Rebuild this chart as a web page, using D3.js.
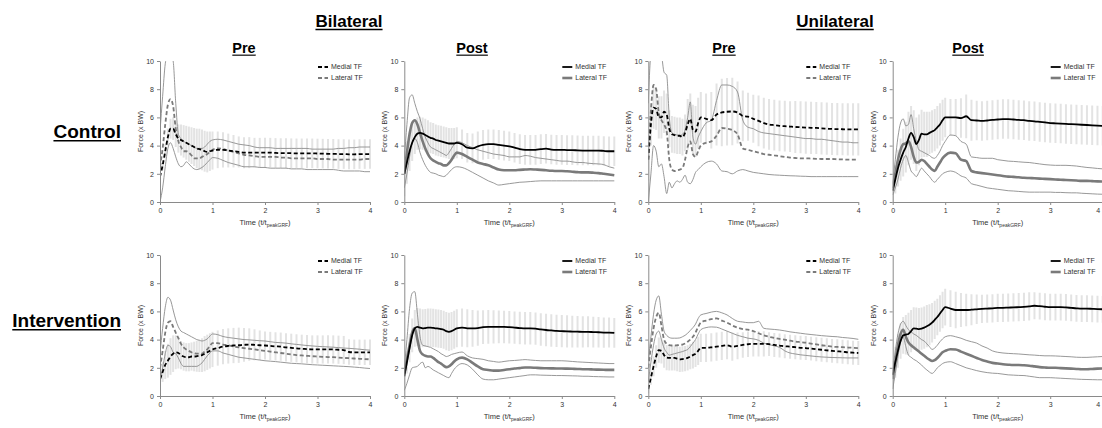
<!DOCTYPE html>
<html><head><meta charset="utf-8">
<script src="https://cdn.jsdelivr.net/npm/d3@7"></script>
<style>
body{margin:0;background:#fff}
svg{display:block}
text{font-family:"Liberation Sans",Arial,sans-serif}
</style>
</head><body>
<svg id="c" width="1102" height="428"></svg>
<script>
// ---------- DATA ----------
const times = [0,0.05,0.1,0.15,0.2,0.25,0.3,0.35,0.4,0.45,0.5,0.55,0.6,0.65,0.7,0.75,0.8,0.85,0.9,0.95,1.0,
  1.1,1.2,1.3,1.4,1.5,1.6,1.7,1.8,1.9,2.0,2.1,2.2,2.3,2.4,2.5,2.6,2.7,2.8,2.9,3.0,3.1,3.2,3.3,3.4,3.5,3.6,3.7,3.8,3.9,4.0];
const xTicks = [0,1,2,3,4];
const yTicks = [0,2,4,6,8,10];
const groupLabels = ["Bilateral","Unilateral"];
const phaseLabels = ["Pre","Post","Pre","Post"];
const rowLabels = ["Control","Intervention"];
const seriesLabels = ["Medial TF","Lateral TF"];

// Control, Bilateral, Pre
const ctrlBiPreMedial = [1.8,2.6,3.6,4.6,5.2,5.2,4.8,4.5,4.4,4.3,4.2,4.1,4.0,3.9,3.8,3.75,3.7,3.6,3.55,3.6,3.65,
  3.7,3.7,3.65,3.6,3.55,3.5,3.5,3.5,3.5,3.5,3.5,3.48,3.47,3.47,3.46,3.45,3.45,3.45,3.45,3.44,3.43,3.42,3.42,3.4,3.4,3.38,3.38,3.4,3.4,3.4];
const ctrlBiPreMedialSD = [0.2,0.3,0.5,0.6,0.7,0.8,0.9,1.0,1.1,1.15,1.2,1.25,1.3,1.35,1.4,1.45,1.45,1.45,1.45,1.4,1.35,
  1.3,1.25,1.2,1.15,1.1,1.1,1.1,1.05,1.05,1.05,1.05,1.05,1.05,1.05,1.05,1.05,1.05,1.05,1.05,1.05,1.05,1.05,1.05,1.05,1.05,1.05,1.05,1.05,1.05,1.05];
const ctrlBiPreLateral = [2.5,3.8,5.5,6.9,7.3,6.8,5.2,4.3,3.9,3.6,3.6,3.5,3.3,3.1,3.1,3.1,3.2,3.3,3.4,3.55,3.7,
  3.8,3.75,3.65,3.55,3.45,3.35,3.3,3.25,3.2,3.2,3.2,3.2,3.15,3.15,3.1,3.1,3.1,3.1,3.1,3.05,3.05,3.05,3.0,3.0,3.0,3.0,3.0,3.0,3.05,3.05];
const ctrlBiPreLateralUpper = [5.0,7.5,9.8,10.5,10.5,10.0,7.0,4.8,4.5,4.3,4.2,4.1,4.0,3.9,3.8,3.8,3.8,3.9,4.1,4.3,4.4,
  4.45,4.4,4.3,4.2,4.1,4.05,4.0,3.9,3.85,3.85,3.85,3.8,3.8,3.8,3.8,3.8,3.8,3.8,3.75,3.75,3.75,3.75,3.75,3.8,3.8,3.85,3.85,3.9,3.9,3.9];
const ctrlBiPreLateralLower = [0,1.0,2.5,3.8,4.2,3.8,3.2,2.7,2.5,2.6,2.85,2.7,2.5,2.35,2.3,2.35,2.45,2.6,2.8,3.0,3.15,
  3.1,2.95,2.8,2.7,2.6,2.5,2.5,2.5,2.45,2.45,2.4,2.4,2.4,2.4,2.35,2.35,2.35,2.3,2.3,2.3,2.3,2.3,2.3,2.25,2.2,2.2,2.2,2.2,2.15,2.15];

// Control, Bilateral, Post
const ctrlBiPostMedial = [2.0,2.8,3.6,4.2,4.6,4.85,4.9,4.85,4.75,4.65,4.55,4.5,4.4,4.35,4.3,4.25,4.2,4.15,4.15,4.15,4.2,
  4.1,3.85,3.8,3.95,4.05,4.1,4.1,4.05,4.0,3.95,3.85,3.75,3.7,3.7,3.7,3.75,3.78,3.72,3.7,3.7,3.68,3.68,3.66,3.65,3.65,3.65,3.65,3.62,3.6,3.6];
const ctrlBiPostMedialSD = [1.6,1.5,1.4,1.3,1.2,1.15,1.15,1.15,1.15,1.15,1.1,1.1,1.1,1.1,1.1,1.1,1.1,1.1,1.1,1.1,1.1,
  1.05,1.05,1.05,1.05,1.05,1.05,1.05,1.05,1.05,1.05,1.05,1.05,1.05,1.05,1.05,1.05,1.05,1.05,1.05,1.05,1.05,1.05,1.05,1.05,1.05,1.05,1.05,1.05,1.05,1.05];
const ctrlBiPostLateral = [2.0,3.5,4.8,5.6,5.8,5.5,4.9,4.3,3.8,3.4,3.1,2.95,2.85,2.75,2.7,2.6,2.6,2.75,3.0,3.3,3.5,
  3.4,3.2,3.0,2.8,2.7,2.6,2.45,2.3,2.25,2.25,2.25,2.28,2.3,2.32,2.3,2.28,2.25,2.22,2.2,2.2,2.18,2.15,2.12,2.1,2.1,2.08,2.05,2.0,1.95,1.9];
const ctrlBiPostLateralUpper = [3.0,5.5,7.4,7.6,7.0,6.4,5.9,5.2,4.6,4.2,3.9,3.8,3.7,3.6,3.5,3.4,3.3,3.5,3.8,4.1,4.3,
  4.2,4.0,3.85,3.7,3.6,3.5,3.4,3.35,3.3,3.2,3.2,3.2,3.3,3.25,3.15,3.1,3.05,3.0,2.95,2.9,2.9,2.85,2.8,2.8,2.75,2.72,2.7,2.65,2.5,2.4];
const ctrlBiPostLateralLower = [1.0,2.0,3.2,4.2,4.5,4.2,3.5,3.0,2.6,2.3,2.1,2.05,2.0,1.9,1.85,1.8,1.9,2.1,2.3,2.45,2.5,
  2.45,2.3,2.1,1.9,1.7,1.5,1.35,1.2,1.25,1.3,1.35,1.4,1.42,1.45,1.48,1.5,1.5,1.5,1.5,1.5,1.5,1.5,1.5,1.5,1.5,1.5,1.5,1.5,1.5,1.5];

// Control, Unilateral, Pre
const ctrlUniPreMedial = [3.0,5.5,6.7,6.6,6.0,6.0,6.4,6.2,5.2,4.8,4.75,4.7,4.7,4.6,4.9,5.5,5.9,5.1,5.0,5.6,6.0,
  5.9,5.8,6.2,6.35,6.4,6.42,6.35,6.1,6.05,5.9,5.75,5.6,5.5,5.45,5.4,5.38,5.35,5.32,5.3,5.28,5.26,5.25,5.22,5.2,5.18,5.17,5.16,5.15,5.15,5.15];
const ctrlUniPreMedialSD = [1.5,1.5,1.5,1.5,1.5,1.5,1.5,1.5,1.3,1.3,1.3,1.3,1.3,1.3,1.3,1.8,1.8,1.8,1.8,1.8,1.8,
  1.8,2.0,2.2,2.4,2.4,2.4,2.2,1.8,1.7,1.7,1.8,1.8,1.8,1.8,1.8,1.8,1.8,1.85,1.85,1.85,1.85,1.85,1.85,1.85,1.85,1.85,1.85,1.85,1.85,1.85];
const ctrlUniPreLateral = [3.5,6.5,8.3,8.0,6.3,5.8,5.5,5.0,3.0,2.3,2.2,2.25,2.3,2.4,3.0,3.9,4.3,3.4,3.2,3.6,4.0,
  4.2,4.3,4.7,5.25,5.2,5.1,4.8,3.8,3.7,3.6,3.5,3.4,3.35,3.3,3.25,3.2,3.15,3.12,3.1,3.1,3.08,3.06,3.05,3.05,3.05,3.03,3.02,3.0,3.0,3.0];
const ctrlUniPreLateralUpper = [7.0,10.5,11,11,11,10.5,9.2,9.0,6.0,4.9,4.8,4.75,4.7,4.8,5.1,6.0,7.1,4.6,4.1,4.6,5.0,
  5.6,5.8,7.2,8.3,8.3,8.2,7.8,5.8,5.3,5.2,5.0,4.9,4.85,4.8,4.75,4.7,4.65,4.6,4.55,4.5,4.5,4.45,4.45,4.4,4.35,4.3,4.25,4.25,4.2,4.2];
const ctrlUniPreLateralLower = [0,2.0,4.0,3.6,2.5,2.7,1.8,0.6,1.4,1.0,1.3,1.5,1.4,1.6,1.9,1.4,1.3,1.6,2.1,2.3,2.5,
  2.8,2.9,2.7,2.2,2.15,2.0,2.2,2.3,2.2,2.1,2.05,2.0,1.95,1.92,1.9,1.88,1.86,1.85,1.83,1.82,1.8,1.8,1.8,1.8,1.8,1.8,1.8,1.8,1.8,1.8];

// Control, Unilateral, Post
const ctrlUniPostMedial = [0.8,1.6,2.4,3.0,3.5,3.9,4.5,4.9,4.6,4.1,4.4,4.85,4.8,4.8,4.9,5.0,5.1,5.3,5.5,5.8,6.0,
  6.0,6.0,5.95,6.08,5.8,5.78,5.75,5.78,5.82,5.85,5.88,5.88,5.85,5.82,5.8,5.75,5.72,5.68,5.64,5.6,5.58,5.56,5.54,5.52,5.5,5.48,5.46,5.44,5.42,5.4];
const ctrlUniPostMedialSD = [0.8,1.0,1.3,1.5,1.7,1.8,1.9,1.9,1.9,1.9,1.8,1.7,1.6,1.6,1.5,1.5,1.5,1.5,1.5,1.45,1.4,
  1.3,1.3,1.4,1.55,1.45,1.4,1.4,1.4,1.4,1.4,1.4,1.4,1.4,1.4,1.4,1.4,1.4,1.4,1.4,1.4,1.4,1.4,1.4,1.4,1.4,1.4,1.4,1.4,1.4,1.4];
const ctrlUniPostLateral = [1.0,2.0,3.0,3.7,4.1,4.15,4.3,3.9,3.2,2.8,2.85,3.0,2.9,2.7,2.5,2.3,2.2,2.5,2.8,3.1,3.3,
  3.5,3.45,3.0,2.9,2.2,2.1,2.05,2.0,1.95,1.9,1.85,1.8,1.78,1.75,1.72,1.7,1.68,1.66,1.64,1.62,1.6,1.58,1.56,1.54,1.52,1.5,1.5,1.48,1.46,1.45];
const ctrlUniPostLateralUpper = [1.3,3.0,4.6,5.6,5.9,5.4,5.5,6.2,5.2,4.3,3.7,3.6,3.5,3.4,3.3,3.15,3.1,3.3,3.6,4.0,4.3,
  4.75,4.7,4.3,4.1,3.2,3.15,3.1,3.1,3.1,3.0,2.95,2.9,2.88,2.85,2.82,2.8,2.75,2.7,2.65,2.62,2.6,2.6,2.6,2.58,2.55,2.5,2.45,2.42,2.38,2.35];
const ctrlUniPostLateralLower = [0.5,1.0,1.6,2.4,3.0,3.3,2.8,2.2,2.0,1.8,2.1,2.4,2.2,2.0,1.8,1.55,1.4,1.6,1.8,2.0,2.1,
  2.2,2.1,1.85,1.7,1.3,1.2,1.1,1.0,0.95,0.9,0.85,0.8,0.78,0.75,0.72,0.7,0.7,0.7,0.7,0.7,0.68,0.68,0.66,0.65,0.65,0.62,0.6,0.58,0.56,0.55];

// Intervention, Bilateral, Pre
const intBiPreMedial = [1.2,1.7,2.2,2.5,2.8,3.0,3.1,3.05,2.9,2.8,2.75,2.75,2.8,2.8,2.82,2.85,2.9,3.0,3.1,3.2,3.3,
  3.4,3.5,3.55,3.58,3.6,3.63,3.65,3.63,3.6,3.58,3.55,3.52,3.5,3.45,3.42,3.38,3.35,3.33,3.3,3.3,3.3,3.3,3.3,3.28,3.26,3.12,3.1,3.1,3.1,3.1];
const intBiPreMedialSD = [0.4,0.7,1.0,1.2,1.3,1.3,1.2,1.1,1.0,1.0,1.0,1.0,1.0,1.05,1.1,1.15,1.2,1.25,1.25,1.25,1.25,
  1.25,1.25,1.25,1.25,1.25,1.2,1.15,1.1,1.05,1.0,1.0,1.0,1.0,1.0,1.0,1.0,1.0,1.0,1.0,1.0,1.0,1.0,1.0,1.0,1.0,0.9,0.9,0.9,0.9,0.9];
const intBiPreLateral = [2.0,3.2,4.5,5.2,5.3,4.9,4.5,4.1,3.7,3.45,3.3,3.2,3.1,3.05,3.0,3.0,3.0,3.15,3.3,3.55,3.75,
  3.75,3.65,3.6,3.5,3.45,3.4,3.35,3.3,3.25,3.2,3.15,3.1,3.05,3.0,2.95,2.9,2.88,2.85,2.82,2.8,2.78,2.76,2.75,2.72,2.7,2.68,2.66,2.64,2.62,2.6];
const intBiPreLateralUpper = [3.0,4.8,6.3,7.0,6.8,6.1,5.4,4.9,4.6,4.5,4.4,4.3,4.2,4.1,4.0,3.95,3.9,3.95,4.05,4.25,4.4,
  4.35,4.22,4.15,4.1,4.05,4.0,3.98,3.95,3.92,3.9,3.85,3.8,3.78,3.75,3.7,3.66,3.62,3.58,3.55,3.52,3.5,3.48,3.46,3.43,3.4,3.38,3.35,3.32,3.28,3.25];
const intBiPreLateralLower = [1.0,2.0,3.0,3.6,3.5,3.1,3.0,2.7,2.3,2.1,2.1,2.1,2.1,2.1,2.1,2.2,2.35,2.6,2.85,3.05,3.2,
  3.2,3.05,2.95,2.85,2.75,2.7,2.65,2.6,2.55,2.5,2.47,2.44,2.4,2.36,2.32,2.3,2.28,2.25,2.22,2.2,2.18,2.16,2.14,2.12,2.1,2.08,2.05,2.02,1.98,1.95];

// Intervention, Bilateral, Post
const intBiPostMedial = [1.4,2.4,3.4,4.3,4.8,4.9,4.85,4.8,4.82,4.85,4.85,4.83,4.8,4.78,4.75,4.7,4.6,4.55,4.6,4.7,4.8,
  4.85,4.8,4.8,4.82,4.88,4.9,4.9,4.9,4.9,4.88,4.85,4.82,4.8,4.8,4.78,4.72,4.68,4.65,4.62,4.6,4.58,4.57,4.56,4.55,4.55,4.53,4.52,4.5,4.5,4.48];
const intBiPostMedialSD = [0.6,0.8,1.0,1.2,1.3,1.35,1.35,1.35,1.35,1.35,1.35,1.35,1.35,1.35,1.35,1.35,1.35,1.35,1.35,1.35,1.35,
  1.35,1.35,1.3,1.25,1.2,1.2,1.18,1.16,1.15,1.15,1.15,1.15,1.15,1.15,1.15,1.15,1.15,1.15,1.15,1.15,1.14,1.13,1.12,1.11,1.1,1.09,1.08,1.07,1.06,1.05];
const intBiPostLateral = [1.6,2.6,3.6,4.5,4.8,4.0,3.2,2.95,2.85,2.8,2.8,2.7,2.55,2.4,2.3,2.15,2.05,2.1,2.25,2.45,2.6,
  2.72,2.6,2.35,2.1,1.9,1.85,1.8,1.8,1.85,1.9,1.95,1.98,2.02,2.02,2.0,1.98,1.97,1.96,1.95,1.95,1.94,1.93,1.92,1.9,1.9,1.88,1.87,1.86,1.85,1.85];
const intBiPostLateralUpper = [2.0,4.0,6.2,7.3,7.4,5.8,4.2,3.6,3.55,3.5,3.45,3.35,3.25,3.15,3.0,2.9,2.8,2.85,2.95,3.0,3.05,
  3.12,2.85,2.7,2.65,2.6,2.5,2.45,2.4,2.45,2.5,2.52,2.55,2.58,2.55,2.52,2.5,2.5,2.5,2.5,2.5,2.48,2.45,2.42,2.4,2.38,2.36,2.34,2.32,2.3,2.3];
const intBiPostLateralLower = [0.4,0.9,1.5,2.0,2.05,2.1,2.3,2.4,2.0,2.1,2.0,1.85,1.75,1.65,1.55,1.45,1.35,1.3,1.6,1.9,2.1,
  2.3,2.2,1.9,1.5,1.2,1.15,1.15,1.2,1.25,1.3,1.35,1.4,1.45,1.5,1.5,1.48,1.47,1.46,1.45,1.45,1.44,1.43,1.42,1.4,1.4,1.38,1.37,1.36,1.35,1.35];

// Intervention, Unilateral, Pre
const intUniPreMedial = [0.5,1.3,2.1,2.8,3.25,3.2,2.9,2.72,2.7,2.7,2.7,2.65,2.6,2.62,2.65,2.7,2.8,2.9,3.0,3.2,3.42,
  3.42,3.45,3.5,3.55,3.6,3.5,3.55,3.62,3.67,3.7,3.7,3.7,3.68,3.62,3.58,3.53,3.5,3.46,3.42,3.4,3.36,3.32,3.28,3.24,3.2,3.17,3.14,3.1,3.07,3.05];
const intUniPreMedialSD = [0.3,0.5,0.7,0.8,0.9,0.9,0.9,0.9,0.9,0.9,0.9,0.9,0.9,0.9,0.9,0.9,0.9,0.95,0.95,1.0,1.0,
  1.0,1.0,1.0,1.0,1.0,1.0,0.95,0.9,0.9,0.9,0.9,0.9,0.85,0.85,0.85,0.85,0.85,0.85,0.85,0.85,0.85,0.85,0.85,0.85,0.85,0.85,0.85,0.85,0.85,0.85];
const intUniPreLateral = [2.0,3.5,4.8,5.6,5.9,5.0,4.0,3.7,3.6,3.58,3.58,3.6,3.62,3.65,3.72,3.85,4.0,4.2,4.5,4.9,5.2,
  5.35,5.45,5.5,5.35,5.2,5.0,4.85,4.75,4.7,4.6,4.45,4.3,4.2,4.12,4.05,4.0,3.92,3.86,3.82,3.78,3.72,3.66,3.6,3.55,3.5,3.48,3.46,3.44,3.42,3.4];
const intUniPreLateralUpper = [2.5,4.2,5.8,6.8,7.1,5.8,4.6,4.3,4.15,4.1,4.1,4.1,4.12,4.2,4.3,4.45,4.65,4.85,5.1,5.5,5.75,
  5.85,5.95,6.0,5.9,5.75,5.5,5.3,5.25,5.2,5.2,5.3,4.8,4.75,4.72,4.68,4.62,4.55,4.5,4.45,4.4,4.36,4.32,4.28,4.25,4.22,4.2,4.15,4.12,4.08,4.02];
const intUniPreLateralLower = [1.0,2.4,3.6,4.4,4.6,4.0,3.4,3.1,2.9,2.95,3.0,3.05,3.1,3.15,3.22,3.3,3.5,3.75,4.0,4.4,4.7,
  4.85,4.9,4.88,4.75,4.6,4.45,4.3,4.2,4.1,4.05,3.95,3.75,3.65,3.55,3.45,3.2,3.05,2.98,2.92,2.88,2.84,2.8,2.77,2.75,2.73,2.72,2.71,2.7,2.7,2.7];

// Intervention, Unilateral, Post
const intUniPostMedial = [1.5,2.4,3.2,3.9,4.3,4.35,4.4,4.6,4.8,4.78,4.75,4.78,4.85,4.95,5.05,5.2,5.4,5.6,5.85,6.1,6.3,
  6.2,6.1,6.1,6.1,6.12,6.15,6.18,6.2,6.22,6.25,6.25,6.27,6.28,6.3,6.32,6.35,6.4,6.37,6.33,6.3,6.3,6.3,6.28,6.25,6.22,6.2,6.2,6.18,6.16,6.15];
const intUniPostMedialSD = [1.0,1.1,1.2,1.25,1.3,1.4,1.5,1.5,1.5,1.5,1.5,1.5,1.5,1.5,1.45,1.4,1.35,1.3,1.3,1.3,1.3,
  1.3,1.3,1.2,1.15,1.1,1.05,1.0,1.0,1.0,1.0,1.0,1.0,1.0,1.0,1.0,1.0,0.95,0.95,0.95,0.95,0.95,0.95,0.95,0.95,0.95,0.95,0.95,0.95,0.95,0.95];
const intUniPostLateral = [1.2,2.4,3.6,4.4,4.7,4.2,3.8,3.6,3.45,3.3,3.15,3.0,2.85,2.7,2.58,2.48,2.55,2.7,2.9,3.1,3.2,
  3.32,3.3,3.15,3.0,2.85,2.7,2.55,2.45,2.35,2.3,2.25,2.22,2.2,2.2,2.18,2.15,2.1,2.05,2.02,2.0,2.0,1.98,1.96,1.94,1.92,1.9,1.9,1.92,1.94,1.95];
const intUniPostLateralUpper = [1.8,3.2,4.4,5.1,5.3,5.0,4.7,4.55,4.4,4.3,4.15,4.0,3.9,3.7,3.5,3.3,3.4,3.6,3.85,4.05,4.2,
  4.28,4.2,4.1,3.95,3.85,3.75,3.55,3.4,3.2,3.1,3.05,3.02,3.0,2.98,2.95,2.92,2.9,2.87,2.85,2.85,2.84,2.82,2.8,2.78,2.75,2.74,2.74,2.76,2.78,2.8];
const intUniPostLateralLower = [0.5,1.6,2.8,3.8,4.2,3.5,2.9,2.75,2.6,2.5,2.35,2.2,2.0,1.85,1.7,1.6,1.75,2.0,2.15,2.3,2.38,
  2.43,2.3,2.15,2.0,1.9,1.8,1.72,1.66,1.62,1.6,1.55,1.5,1.48,1.46,1.45,1.4,1.35,1.3,1.3,1.3,1.28,1.26,1.24,1.22,1.2,1.18,1.17,1.16,1.15,1.15];

// ---------- PANELS ----------
const panels = [
  {row:0,col:0,style:"pre", medial:ctrlBiPreMedial, sd:ctrlBiPreMedialSD, lateral:ctrlBiPreLateral, upper:ctrlBiPreLateralUpper, lower:ctrlBiPreLateralLower},
  {row:0,col:1,style:"post",medial:ctrlBiPostMedial,sd:ctrlBiPostMedialSD,lateral:ctrlBiPostLateral,upper:ctrlBiPostLateralUpper,lower:ctrlBiPostLateralLower},
  {row:0,col:2,style:"pre", medial:ctrlUniPreMedial,sd:ctrlUniPreMedialSD,lateral:ctrlUniPreLateral,upper:ctrlUniPreLateralUpper,lower:ctrlUniPreLateralLower},
  {row:0,col:3,style:"post",medial:ctrlUniPostMedial,sd:ctrlUniPostMedialSD,lateral:ctrlUniPostLateral,upper:ctrlUniPostLateralUpper,lower:ctrlUniPostLateralLower},
  {row:1,col:0,style:"pre", medial:intBiPreMedial,sd:intBiPreMedialSD,lateral:intBiPreLateral,upper:intBiPreLateralUpper,lower:intBiPreLateralLower},
  {row:1,col:1,style:"post",medial:intBiPostMedial,sd:intBiPostMedialSD,lateral:intBiPostLateral,upper:intBiPostLateralUpper,lower:intBiPostLateralLower},
  {row:1,col:2,style:"pre", medial:intUniPreMedial,sd:intUniPreMedialSD,lateral:intUniPreLateral,upper:intUniPreLateralUpper,lower:intUniPreLateralLower},
  {row:1,col:3,style:"post",medial:intUniPostMedial,sd:intUniPostMedialSD,lateral:intUniPostLateral,upper:intUniPostLateralUpper,lower:intUniPostLateralLower}
];

// ---------- LAYOUT ----------
const svg = d3.select("#c");
svg.append("rect").attr("width",1102).attr("height",428).attr("fill","#fff");
const colX = [160,404.3,648.3,892.7];
const rowTop = [61,255];
const W = 210, H = 141;
const defs = svg.append("defs");

function underlinedText(txt, x, y, size, anchor){
  const t = svg.append("text").attr("x",x).attr("y",y).attr("text-anchor",anchor)
    .attr("font-size",size).attr("font-weight","bold").attr("fill","#000").text(txt);
  const bb = t.node().getBBox();
  svg.append("line").attr("x1",bb.x).attr("x2",bb.x+bb.width)
    .attr("y1",y+size*0.15).attr("y2",y+size*0.15)
    .attr("stroke","#000").attr("stroke-width",Math.max(1,size*0.08));
}

// titles
underlinedText(groupLabels[0], 349, 27, 17, "middle");
underlinedText(groupLabels[1], 835, 27, 17, "middle");
const phaseX = [244,472,724,968];
phaseLabels.forEach((l,i)=>underlinedText(l, phaseX[i], 53, 14.5, "middle"));
underlinedText(rowLabels[0], 121, 138, 19, "end");
underlinedText(rowLabels[1], 121, 327, 19, "end");

panels.forEach((p,k)=>{
  const x0 = colX[p.col], y0 = rowTop[p.row];
  const x = d3.scaleLinear().domain([0,4]).range([x0,x0+W]);
  const y = d3.scaleLinear().domain([0,10]).range([y0+H,y0]);
  const g = svg.append("g");

  defs.append("clipPath").attr("id","clip"+k).append("rect")
    .attr("x",x0).attr("y",y0).attr("width",W+3).attr("height",H);
  const plot = g.append("g").attr("clip-path",`url(#clip${k})`);

  // medial SD error bars
  plot.append("g").selectAll("line").data(times).enter().append("line")
    .attr("x1",t=>x(t)).attr("x2",t=>x(t))
    .attr("y1",(t,i)=>y(p.medial[i]-p.sd[i]))
    .attr("y2",(t,i)=>y(p.medial[i]+p.sd[i]))
    .attr("stroke","#e3e3e3").attr("stroke-width",2);

  const line = d3.line().x((d,i)=>x(times[i])).y(d=>y(d)).curve(d3.curveMonotoneX);
  const dash = p.style==="pre" ? "4,2.5" : null;

  plot.append("path").attr("d",line(p.upper)).attr("fill","none").attr("stroke","#8c8c8c").attr("stroke-width",0.9);
  plot.append("path").attr("d",line(p.lower)).attr("fill","none").attr("stroke","#8c8c8c").attr("stroke-width",0.9);
  plot.append("path").attr("d",line(p.lateral)).attr("fill","none").attr("stroke","#7a7a7a")
    .attr("stroke-width",p.style==="pre"?1.8:2.6).attr("stroke-dasharray",dash);
  plot.append("path").attr("d",line(p.medial)).attr("fill","none").attr("stroke","#000")
    .attr("stroke-width",1.8).attr("stroke-dasharray",dash);

  // axes
  const ay = g.append("g").attr("transform",`translate(${x0},0)`)
    .call(d3.axisLeft(y).tickValues(yTicks).tickFormat(d3.format("d")).tickSize(3).tickSizeOuter(0).tickPadding(3));
  const ax = g.append("g").attr("transform",`translate(0,${y0+H})`)
    .call(d3.axisBottom(x).tickValues(xTicks).tickFormat(d3.format("d")).tickSize(3).tickSizeOuter(0).tickPadding(3));
  [ax,ay].forEach(a=>{
    a.select(".domain").attr("stroke","#8a8a8a");
    a.selectAll(".tick line").attr("stroke","#8a8a8a");
    a.selectAll(".tick text").attr("font-size",7).attr("fill","#333").attr("font-family","Liberation Sans, Arial, sans-serif");
  });
  // keep the last x tick label inside the picture for the right-most column
  if (x0 + W + 4 > 1102) {
    ax.selectAll(".tick text").filter(d=>d===4).attr("text-anchor","end").attr("dx",-3);
  }

  // axis titles
  g.append("text").attr("transform",`translate(${x0-17},${y0+H/2}) rotate(-90)`)
    .attr("text-anchor","middle").attr("font-size",7).attr("fill","#333").text("Force (x BW)");
  const tt = g.append("text").attr("x",x0+W/2).attr("y",y0+H+23).attr("text-anchor","middle")
    .attr("font-size",7.5).attr("fill","#333");
  tt.append("tspan").text("Time (t/t");
  tt.append("tspan").attr("font-size",5).attr("dy",1.8).text("peakGRF");
  tt.append("tspan").attr("dy",-1.8).text(")");

  // legend
  const lg = g.append("g");
  [0,1].forEach(j=>{
    const ly = y0 + 6 + j*11;
    lg.append("line").attr("x1",x0+158).attr("x2",x0+168).attr("y1",ly).attr("y2",ly)
      .attr("stroke", j===0 ? "#000" : "#7a7a7a")
      .attr("stroke-width", j===0 ? 1.8 : (p.style==="pre"?1.8:2.6))
      .attr("stroke-dasharray", dash);
    lg.append("text").attr("x",x0+171).attr("y",ly).attr("dy","0.35em")
      .attr("font-size",7).attr("fill","#333").text(seriesLabels[j]);
  });
});
</script>
</body></html>
